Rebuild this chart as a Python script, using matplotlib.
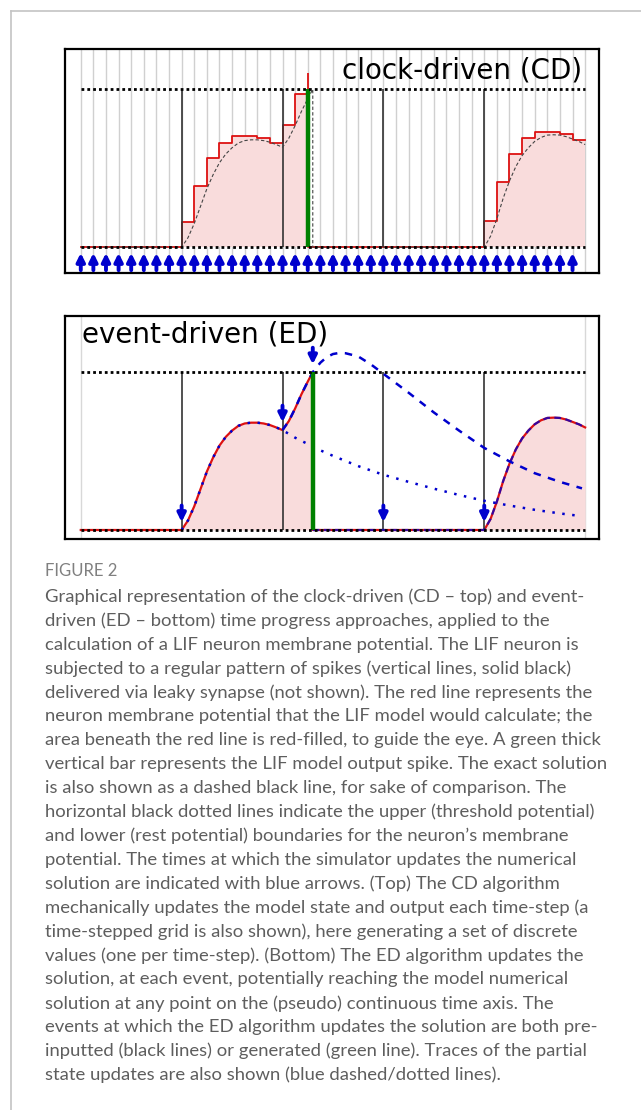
import numpy as np
import matplotlib
matplotlib.use("Agg")
import matplotlib.pyplot as plt
from matplotlib.lines import Line2D

# time grid (one line per time-step) and events
grid_steps = list(range(0, 41))
input_spikes = [8, 16, 24, 32]
cd_spike_step = 18
ed_spike_time = 18.4

# clock-driven membrane potential, one value per step interval [k, k+1)
cd_values = [0, 0, 0, 0, 0, 0, 0, 0,
             0.158, 0.389, 0.564, 0.663, 0.703, 0.707, 0.693, 0.661, 0.777, 0.968,
             0, 0, 0, 0, 0, 0, 0, 0, 0, 0, 0, 0, 0, 0,
             0.166, 0.41, 0.589, 0.693, 0.731, 0.731, 0.714, 0.682]
cd_spike_top = 1.105

# exact solution (rest = 0, threshold = 1)
exact_t = [0, 8.0, 8.5, 9.0, 9.5, 10.0, 10.5, 11.0, 11.5, 12.0, 12.5, 13.0, 13.5, 14.0,
           14.5, 15.0, 15.5, 16.0, 16.5, 17.0, 17.5, 18.0, 18.4, 18.4,
           32.0, 32.5, 33.0, 33.5, 34.0, 34.5, 35.0, 35.5, 36.0, 36.5, 37.0, 37.5,
           38.0, 38.5, 39.0, 39.5, 40.0]
exact_v = [0, 0, 0.06, 0.15, 0.26, 0.37, 0.46, 0.535, 0.59, 0.63, 0.66, 0.675, 0.68, 0.68,
           0.675, 0.665, 0.65, 0.633, 0.69, 0.77, 0.86, 0.94, 1.0, 0,
           0, 0.07, 0.18, 0.31, 0.42, 0.51, 0.58, 0.63, 0.67, 0.695, 0.71, 0.712,
           0.71, 0.70, 0.685, 0.67, 0.65]

# partial state traces of the event-driven solver
dot_trace_t = [8.0, 8.5, 9.0, 9.5, 10.0, 10.5, 11.0, 11.5, 12.0, 12.5, 13.0, 13.5, 14.0,
               14.5, 15.0, 15.5, 16, 17, 18, 19, 20, 22, 24, 26, 28, 30, 32, 34, 36, 38, 39.7]
dot_trace_v = [0, 0.06, 0.15, 0.26, 0.37, 0.46, 0.535, 0.59, 0.63, 0.66, 0.675, 0.68, 0.68,
               0.675, 0.665, 0.65, 0.633, 0.585, 0.545, 0.505, 0.47, 0.405, 0.35, 0.305,
               0.262, 0.222, 0.185, 0.155, 0.128, 0.105, 0.088]
dash_trace_t = [16.0, 16.5, 17.0, 17.5, 18.0, 18.4, 19, 19.5, 20, 20.5, 21, 22, 23, 24,
                26, 28, 30, 32, 34, 36, 38, 39.75]
dash_trace_v = [0.633, 0.69, 0.77, 0.86, 0.94, 1.0, 1.06, 1.095, 1.115, 1.122, 1.12, 1.1,
                1.05, 0.99, 0.87, 0.745, 0.63, 0.52, 0.435, 0.36, 0.305, 0.264]
reset_trace_t = [18.4, 32.0, 32.5, 33.0, 33.5, 34.0, 34.5, 35.0, 35.5, 36.0, 36.5, 37.0,
                 37.5, 38.0, 38.5, 39.0, 39.5, 40.0]
reset_trace_v = [0, 0, 0.07, 0.18, 0.31, 0.42, 0.51, 0.58, 0.63, 0.67, 0.695, 0.71, 0.712,
                 0.71, 0.70, 0.685, 0.67, 0.65]

# event-driven update events (time, potential at that time)
ed_events_t = [8, 16, 18.4, 24, 32]
ed_events_v = [0, 0.633, 1.0, 0, 0]

caption_head = "FIGURE 2"
caption_lines = [
    "Graphical representation of the clock-driven (CD \u2013 top) and event-",
    "driven (ED \u2013 bottom) time progress approaches, applied to the",
    "calculation of a LIF neuron membrane potential. The LIF neuron is",
    "subjected to a regular pattern of spikes (vertical lines, solid black)",
    "delivered via leaky synapse (not shown). The red line represents the",
    "neuron membrane potential that the LIF model would calculate; the",
    "area beneath the red line is red-filled, to guide the eye. A green thick",
    "vertical bar represents the LIF model output spike. The exact solution",
    "is also shown as a dashed black line, for sake of comparison. The",
    "horizontal black dotted lines indicate the upper (threshold potential)",
    "and lower (rest potential) boundaries for the neuron\u2019s membrane",
    "potential. The times at which the simulator updates the numerical",
    "solution are indicated with blue arrows. (Top) The CD algorithm",
    "mechanically updates the model state and output each time-step (a",
    "time-stepped grid is also shown), here generating a set of discrete",
    "values (one per time-step). (Bottom) The ED algorithm updates the",
    "solution, at each event, potentially reaching the model numerical",
    "solution at any point on the (pseudo) continuous time axis. The",
    "events at which the ED algorithm updates the solution are both pre-",
    "inputted (black lines) or generated (green line). Traces of the partial",
    "state updates are also shown (blue dashed/dotted lines).",
]

W, H = 641, 1110
RED = "#dd1111"
BLUE = "mediumblue"
FILL = "#f9dcdc"


def px_axes(fig, left, top, right, bottom):
    return fig.add_axes([left / W, 1 - bottom / H, (right - left) / W, (bottom - top) / H])


def common(ax, ylim):
    ax.set_xlim(-1.29, 41.1)
    ax.set_ylim(*ylim)
    ax.set_xticks([])
    ax.set_yticks([])
    for s in ax.spines.values():
        s.set_linewidth(1.6)
    # threshold / rest boundaries
    ax.hlines([0, 1], 0, 40, colors="black", linestyles=(0, (1, 1.1)), lw=2.0, zorder=6)
    ax.vlines(input_spikes, 0, 1, colors="#333333", lw=1.2, zorder=4)


def arrow(ax, x, tip, base):
    ax.annotate("", xy=(x, tip), xytext=(x, base),
                arrowprops=dict(arrowstyle="-|>", color=BLUE, lw=2.8,
                                mutation_scale=12, shrinkA=0, shrinkB=0), zorder=7)


def main():
    fig = plt.figure(figsize=(W / 100, H / 100), dpi=100)

    # page frame
    fig.add_artist(Line2D([11 / W, 11 / W], [0, 1 - 11 / H], color="#c4c4c4", lw=1.2))
    fig.add_artist(Line2D([11 / W, 1], [1 - 11 / H, 1 - 11 / H], color="#c4c4c4", lw=1.2))

    # ---- clock-driven
    ax1 = px_axes(fig, 64.5, 49, 599, 273)
    common(ax1, (-0.163, 1.255))
    ax1.vlines(grid_steps, -1, 2, colors="#d0d0d0", lw=1.0, zorder=0)
    xs = grid_steps
    vs = cd_values + [cd_values[-1]]
    ax1.fill_between(xs, 0, vs, step="post", color=FILL, lw=0, zorder=1)
    ax1.step(xs, vs, where="post", color=RED, lw=1.3, zorder=3)
    ax1.vlines(cd_spike_step, cd_values[cd_spike_step - 1], cd_spike_top, colors=RED, lw=1.3, zorder=3)
    ax1.plot(exact_t, exact_v, color="#444444", lw=0.8, ls=(0, (3, 2)), zorder=4)
    ax1.vlines(cd_spike_step, 0, 1, colors="green", lw=3.2, zorder=5)
    for k in grid_steps[:-1]:
        arrow(ax1, k, -0.036, -0.145)
    ax1.text(582 / W, 1 - 70 / H, "clock-driven (CD)", transform=fig.transFigure,
             ha="right", va="center", fontsize=20, zorder=8)

    # ---- event-driven
    ax2 = px_axes(fig, 64.5, 316, 599, 539)
    common(ax2, (-0.057, 1.356))
    ax2.vlines([0, 40], -1, 2, colors="#d8d8d8", lw=1.0, zorder=0)
    ax2.fill_between(exact_t, 0, exact_v, color=FILL, lw=0, zorder=1)
    ax2.plot(exact_t, exact_v, color=RED, lw=1.6, zorder=3)
    ax2.plot(dot_trace_t, dot_trace_v, color=BLUE, lw=1.8, ls=(0, (1, 3)), zorder=4)
    ax2.plot(dash_trace_t, dash_trace_v, color=BLUE, lw=1.8, ls=(0, (3, 3)), zorder=4)
    ax2.plot(reset_trace_t, reset_trace_v, color=BLUE, lw=1.6, ls=(0, (3, 2)), alpha=0.75, zorder=4)
    ax2.vlines(ed_spike_time, 0, 1, colors="green", lw=3.2, zorder=5)
    for t, v in zip(ed_events_t, ed_events_v):
        arrow(ax2, t, v + 0.05, v + 0.155)
    ax2.text(81.7 / W, 1 - 335 / H, "event-driven (ED)", transform=fig.transFigure,
             ha="left", va="center", fontsize=20, zorder=8)

    # ---- caption
    fig.text(45 / W, 1 - 571 / H, caption_head, color="#808080", fontsize=12,
             family="Lato", va="center")
    for i, line in enumerate(caption_lines):
        fig.text(45 / W, 1 - (597 + 23.9 * i) / H, line, color="#5e5e5e", fontsize=13.3,
                 family="Lato", va="center")

    plt.savefig("out.png", dpi=100)


if __name__ == "__main__":
    main()
